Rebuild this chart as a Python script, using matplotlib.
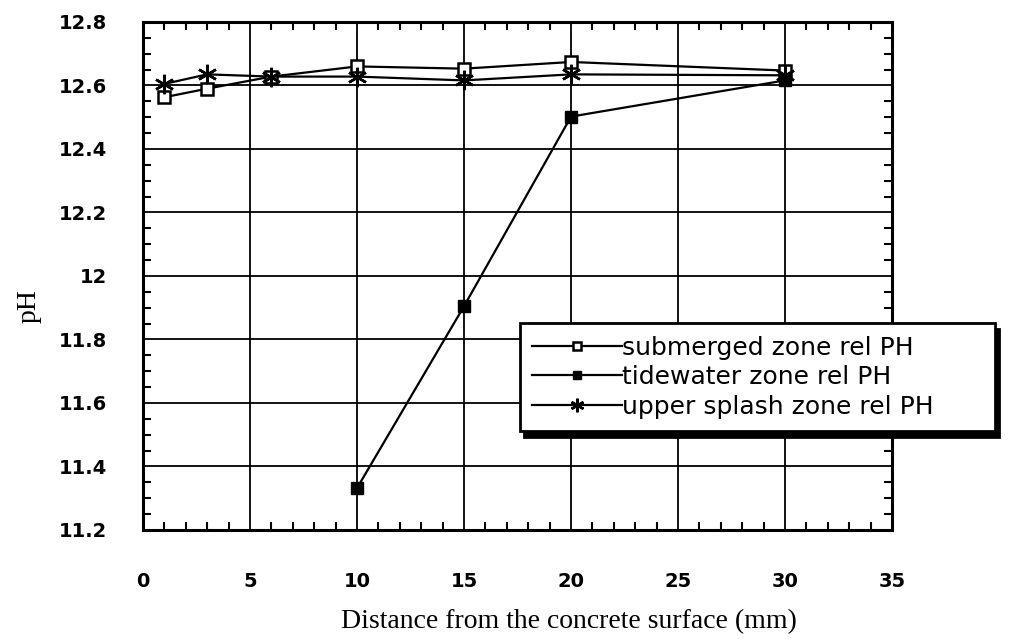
import numpy as np
import matplotlib
matplotlib.use('Agg')
import matplotlib.pyplot as plt
from matplotlib.ticker import MultipleLocator, FuncFormatter

# data
x_all = [1, 3, 6, 10, 15, 20, 30]
ph_submerged = [12.563, 12.59, 12.628, 12.66, 12.653, 12.674, 12.647]
ph_splash = [12.605, 12.635, 12.628, 12.628, 12.616, 12.635, 12.632]
x_tide = [10, 15, 20, 30]
ph_tide = [11.332, 11.905, 12.502, 12.616]

labels = ['submerged zone rel PH', 'tidewater zone rel PH', 'upper splash zone rel PH']

fig = plt.figure(figsize=(10.18, 6.39), dpi=100)
ax = fig.add_axes([0.1405, 0.1706, 0.7358, 0.795])

l1, = ax.plot(x_all, ph_submerged, color='k', lw=1.6, marker='s', ms=9,
              mfc='white', mec='k', mew=1.8, zorder=4)
l2, = ax.plot(x_tide, ph_tide, color='k', lw=1.6, marker='s', ms=9,
              mfc='k', mec='k', zorder=4)
l3, = ax.plot(x_all, ph_splash, color='k', lw=1.6, marker=(6, 2, 0), ms=14,
              mec='k', mew=1.8, zorder=4)

ax.set_xlim(0, 35)
ax.set_ylim(11.2, 12.8)
ax.xaxis.set_major_locator(MultipleLocator(5))
ax.xaxis.set_minor_locator(MultipleLocator(1))
ax.yaxis.set_major_locator(MultipleLocator(0.2))
ax.yaxis.set_minor_locator(MultipleLocator(0.05))
ax.yaxis.set_major_formatter(FuncFormatter(lambda v, p: '%g' % round(v, 1)))

ax.grid(True, which='major', color='k', lw=1.3)
ax.tick_params(which='both', direction='in', top=True, right=True, color='k')
ax.tick_params(which='major', length=0, width=1.3)
ax.tick_params(which='minor', length=6, width=1.5)
ax.tick_params(axis='x', which='major', pad=30)
ax.tick_params(axis='y', which='major', pad=26)
for lab in ax.get_xticklabels() + ax.get_yticklabels():
    lab.set_fontfamily('DejaVu Sans')
    lab.set_fontweight('bold')
    lab.set_fontsize(14)
for sp in ax.spines.values():
    sp.set_linewidth(2.2)

ax.set_xlabel('Distance from the concrete surface (mm)', family='Liberation Serif', fontsize=20)
ax.xaxis.set_label_coords(0.568, -0.155)
ax.set_ylabel('pH', family='Liberation Serif', fontsize=20)
ax.yaxis.set_label_coords(-0.135, 0.44)

leg = fig.legend([l1, l2, l3], labels, loc='upper left',
                 bbox_to_anchor=(0.5108, 0.3192, 0.4666, 0.1753), mode='expand',
                 bbox_transform=fig.transFigure, borderaxespad=0,
                 prop={'family': 'DejaVu Sans', 'size': 18},
                 handlelength=3.6, handletextpad=0.0, labelspacing=0.22,
                 borderpad=0.5, markerscale=0.7, fancybox=False,
                 shadow={'ox': 3, 'oy': -4, 'color': 'k', 'alpha': 1})
leg.get_frame().set_edgecolor('k')
leg.get_frame().set_linewidth(2.0)

fig.savefig('out.png', dpi=100)
